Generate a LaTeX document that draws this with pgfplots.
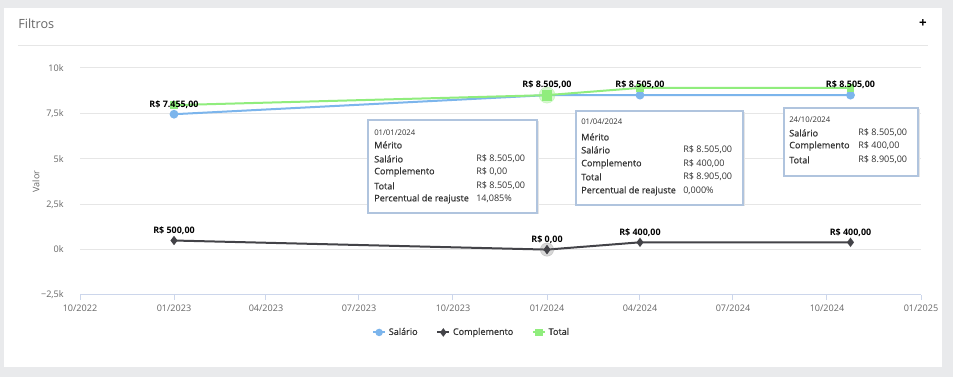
\documentclass[border=0pt]{standalone}
\usepackage{pgfplots}
\pgfplotsset{compat=1.18}
\usepackage{fontspec}
\setmainfont{Open Sans}
\newfontfamily\semib[FakeBold=0.6]{Open Sans}
\definecolor{bgc}{HTML}{E9EAEC}
\definecolor{salc}{HTML}{7CB5EC}
\definecolor{comc}{HTML}{434348}
\definecolor{totc}{HTML}{90ED7D}
\definecolor{gridc}{HTML}{E6E6E6}
\definecolor{axc}{HTML}{CCD6EB}
\definecolor{txtc}{HTML}{666666}
\definecolor{darkc}{HTML}{333333}
\definecolor{tipc}{HTML}{B0C4DE}
\newcommand\fs[1]{\fontsize{#1}{#1}\selectfont}
\begin{document}
\begin{tikzpicture}[x=0.75pt,y=0.75pt]
\fill[bgc] (0,0) rectangle (953,377);
\fill[white] (4,10) rectangle (942,369);
\node[anchor=west, text=txtc, font=\fs{9.5pt}, inner sep=0] at (18,353) {Filtros};
\node[font=\fs{10pt}\bfseries, inner sep=0] at (923,353) {+};
\draw[gridc, line width=0.75pt] (18,331) -- (928,331);
\begin{axis}[
 at={(60pt,61.5pt)}, anchor=south west,
 scale only axis, width=630.75pt, height=170.25pt,
 xmin=0, xmax=823, ymin=-2500, ymax=10000,
 scaled y ticks=false, scaled x ticks=false,
 axis x line*=bottom, axis y line*=left,
 y axis line style={draw=none},
 x axis line style={draw=axc, line width=0.75pt, -},
 ytick={-2500,0,2500,5000,7500,10000},
 yticklabels={{−2,5k},{0k},{2,5k},{5k},{7,5k},{10k}},
 xtick={0,92,182,273,365,457,548,639,731,823},
 xticklabels={10/2022,01/2023,04/2023,07/2023,10/2023,01/2024,04/2024,07/2024,10/2024,01/2025},
 ymajorgrids, grid style={draw=gridc, line width=0.75pt},
 ytick style={draw=none},
 xtick style={draw=axc, line width=0.75pt},
 tick align=outside, major tick length=3.75pt,
 ticklabel style={font=\fs{6.8pt}, text=txtc},
 yticklabel style={xshift=-5pt},
 ylabel={Valor},
 every axis y label/.style={at={(axis description cs:0,0.5)}, xshift=-33pt, rotate=90, anchor=center, font=\fs{6.8pt}, text=txtc},
 clip=false,
 legend style={at={(0.466,-0.165)}, anchor=center, draw=none, fill=none, legend columns=-1,
   font=\fs{6.8pt}\semib, text=darkc, /tikz/every even column/.append style={column sep=12pt}},
 legend image code/.code={\draw[mark repeat=2,mark phase=2,#1, mark size=2pt] plot coordinates {(0pt,0pt) (4.5pt,0pt) (9pt,0pt)};},
]
\addplot[salc, line width=1.5pt, mark=*, mark size=2.5pt] coordinates {(92,7455)(457,8505)(548,8505)(754,8505)};
\addlegendentry{Salário}
\addplot[comc, line width=1.5pt, mark=diamond*, mark size=2.3pt] coordinates {(92,500)(457,0)(548,400)(754,400)};
\addlegendentry{Complemento}
\addplot[totc, line width=1.5pt, mark=square*, mark size=2.1pt] coordinates {(92,7955)(457,8505)(548,8905)(754,8905)};
\addlegendentry{Total}
\addplot[forget plot, only marks, mark=*, mark size=6pt, totc, opacity=0.35] coordinates {(457,8505)};
\addplot[forget plot, only marks, mark=square*, mark size=3.5pt, totc] coordinates {(457,8505)};
\addplot[forget plot, only marks, mark=*, mark size=5pt, gray, opacity=0.3] coordinates {(457,0)};
\addplot[forget plot, only marks, mark=diamond*, mark size=3pt, comc] coordinates {(457,0)};
\addplot[forget plot, draw=none, mark=none, nodes near coords, point meta=explicit symbolic,
  every node near coord/.style={anchor=center, yshift=7.5pt, font=\fs{6.7pt}\bfseries, text=black, inner sep=0}]
  coordinates {(92,7455)[R\$ 7.455,00] (457,8505)[R\$ 8.505,00] (548,8505)[R\$ 8.505,00] (754,8505)[R\$ 8.505,00]};
\addplot[forget plot, draw=none, mark=none, nodes near coords, point meta=explicit symbolic,
  every node near coord/.style={anchor=center, yshift=7.5pt, font=\fs{6.7pt}\bfseries, text=black, inner sep=0}]
  coordinates {(92,500)[R\$ 500,00] (457,0)[R\$ 0,00] (548,400)[R\$ 400,00] (754,400)[R\$ 400,00]};
\end{axis}
\begin{scope}[every node/.style={inner sep=0, anchor=west, font=\fs{6.8pt}, text=darkc}]
% box 1
\fill[black!10] (369.5,162.5) rectangle (538.5,255.5);
\filldraw[fill=white, draw=tipc, line width=1pt] (368,164) rectangle (537,257);
\node[font=\fs{5.8pt}] at (374,244) {01/01/2024};
\node at (374,232) {\semib Mérito};
\node at (374,218) {\semib Salário}; \node at (476,218) {R\$ 8.505,00};
\node at (374,205) {\semib Complemento}; \node at (476,205) {R\$ 0,00};
\node at (374,191) {\semib Total}; \node at (476,191) {R\$ 8.505,00};
\node at (374,178) {\semib Percentual de reajuste}; \node at (476,178) {14,085\%};
% box 2
\fill[black!10] (577.5,170.5) rectangle (744.5,264.5);
\filldraw[fill=white, draw=tipc, line width=1pt] (576,172) rectangle (743,266);
\node[font=\fs{5.8pt}] at (581,255) {01/04/2024};
\node at (581,240) {\semib Mérito};
\node at (581,227) {\semib Salário}; \node at (683,227) {R\$ 8.505,00};
\node at (581,213) {\semib Complemento}; \node at (683,213) {R\$ 400,00};
\node at (581,200) {\semib Total}; \node at (683,200) {R\$ 8.905,00};
\node at (581,186) {\semib Percentual de reajuste}; \node at (683,186) {0,000\%};
% box 3
\fill[black!10] (785.5,199.5) rectangle (919.5,267.5);
\filldraw[fill=white, draw=tipc, line width=1pt] (784,201) rectangle (918,269);
\node[font=\fs{5.8pt}] at (789,257) {24/10/2024};
\node at (789,244) {\semib Salário}; \node at (858,244) {R\$ 8.505,00};
\node at (789,231) {\semib Complemento}; \node at (858,231) {R\$ 400,00};
\node at (789,217) {\semib Total}; \node at (858,217) {R\$ 8.905,00};
\end{scope}
\end{tikzpicture}
\end{document}
